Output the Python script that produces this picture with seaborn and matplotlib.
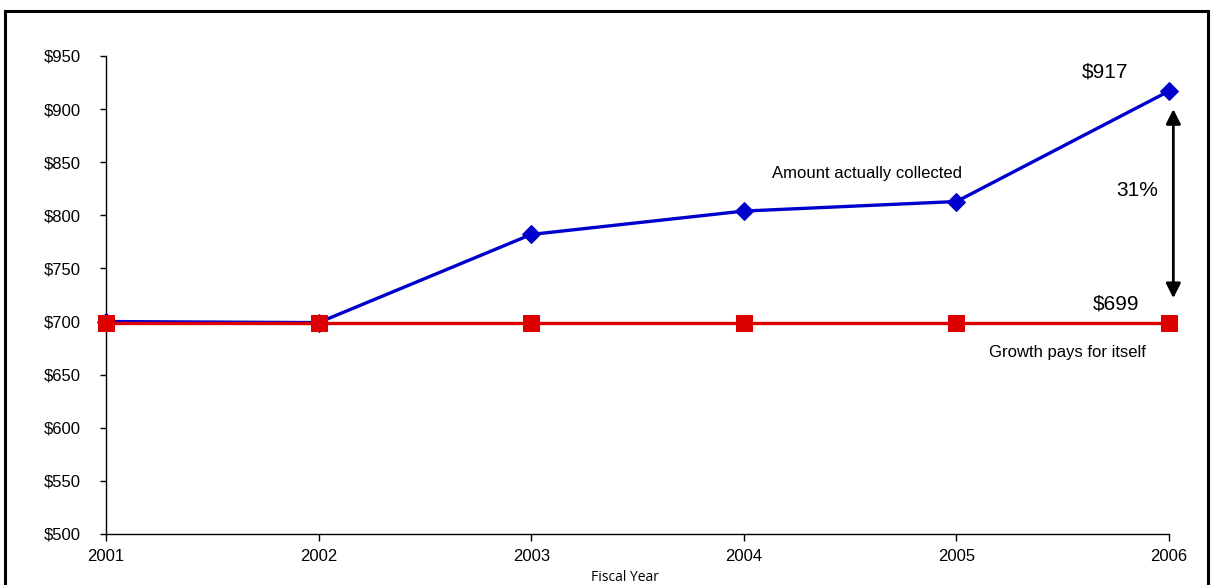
import pandas as pd
import matplotlib
matplotlib.use("Agg")
import matplotlib.pyplot as plt
import seaborn as sns
from matplotlib.patches import Rectangle
from matplotlib.ticker import FuncFormatter

sns.set_style("white")
plt.rcParams['font.family'] = ['Liberation Sans', 'DejaVu Sans']
plt.rcParams['text.color'] = 'black'
plt.rcParams['xtick.color'] = 'black'
plt.rcParams['ytick.color'] = 'black'

# data
years = [2001, 2002, 2003, 2004, 2005, 2006]
collected = [700, 699, 782, 804, 813, 917]
growth_pays = [699, 699, 699, 699, 699, 699]

df = pd.DataFrame({'year': years, 'collected': collected, 'growth': growth_pays})

fig = plt.figure(figsize=(12.14, 5.85), dpi=100)
ax = fig.add_axes([0.0873, 0.0872, 0.8757, 0.8171])

sns.lineplot(data=df, x='year', y='collected', ax=ax, color='#0000CC',
             linewidth=2.4, marker='D', markersize=9, markeredgecolor='#0000CC',
             zorder=3)
sns.lineplot(data=df, x='year', y='growth', ax=ax, color='#DD0000',
             linewidth=2.4, marker='s', markersize=11, markeredgecolor='#DD0000',
             zorder=4)

ax.set_xlim(2001, 2006)
ax.set_ylim(500, 950)
ax.set_xticks(years)
ax.set_yticks(range(500, 951, 50))
ax.yaxis.set_major_formatter(FuncFormatter(lambda v, p: f"${v:.0f}"))
ax.set_xlabel('')
ax.set_ylabel('')
ax.tick_params(axis='y', direction='out', length=4, width=1, pad=14,
               labelsize=12, left=True, labelcolor='black')
ax.tick_params(axis='x', direction='out', length=5, width=1, pad=6,
               labelsize=12, bottom=True, labelcolor='black')
for s in ['top', 'right']:
    ax.spines[s].set_visible(False)
for s in ['left', 'bottom']:
    ax.spines[s].set_color('black')
    ax.spines[s].set_linewidth(1)
for line in ax.lines:
    line.set_clip_on(False)

# annotations
ax.text(2005.70, 935, '$917', fontsize=15, ha='center', va='center')
ax.text(2005.85, 823, '31%', fontsize=15, ha='center', va='center')
ax.text(2005.75, 716.5, '$699', fontsize=15, ha='center', va='center')
ax.text(2004.58, 839, 'Amount actually collected', fontsize=12,
        ha='center', va='center')
ax.text(2005.52, 671, 'Growth pays for itself', fontsize=12,
        ha='center', va='center')
ax.annotate('', xy=(2006.02, 900), xytext=(2006.02, 722),
            arrowprops=dict(arrowstyle='<|-|>', color='black', lw=2,
                            mutation_scale=22, shrinkA=0, shrinkB=0),
            annotation_clip=False)

fig.text(625 / 1214, 1 - 570 / 585, 'Fiscal Year', fontsize=10,
         family=['Open Sans', 'DejaVu Sans'], ha='center', va='top')

# outer frame
fig.patches.append(Rectangle((5 / 1214, -0.2), 1203 / 1214, 1.2 - 11 / 585,
                             transform=fig.transFigure, fill=False,
                             edgecolor='black', linewidth=2.2))

fig.savefig('out.png', dpi=100)
